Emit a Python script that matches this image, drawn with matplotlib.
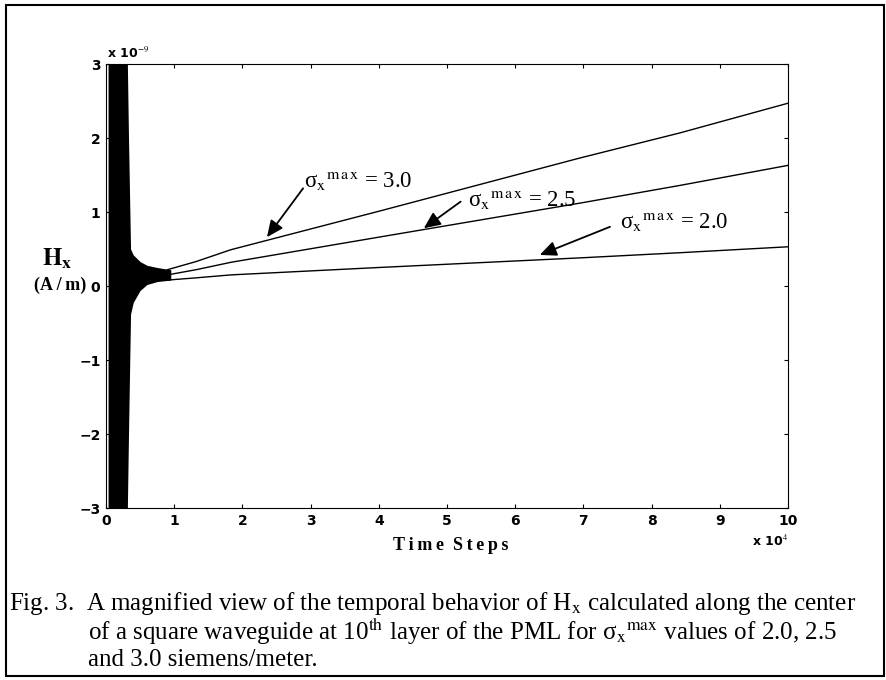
import numpy as np
from matplotlib import pyplot as plt
from matplotlib.patches import Rectangle

plt.rcParams['mathtext.fontset'] = 'stix'

# time axis in units of 1e4 steps, field in units of 1e-9 A/m
t_line = [0.9, 1.32, 1.83, 4.0, 6.95, 8.42, 10.0]
h_30 = [0.22, 0.33, 0.49, 1.01, 1.73, 2.07, 2.47]
h_25 = [0.15, 0.22, 0.32, 0.66, 1.12, 1.36, 1.63]
h_20 = [0.08, 0.11, 0.15, 0.25, 0.38, 0.45, 0.53]

# envelope of the dense early oscillation
env_t = [0.03, 0.31, 0.33, 0.36, 0.40, 0.50, 0.60, 0.75, 0.95]
env_hi = [3.2, 3.2, 2.0, 0.50, 0.42, 0.33, 0.28, 0.25, 0.22]
env_lo = [-3.2, -3.2, -2.0, -0.38, -0.22, -0.06, 0.02, 0.06, 0.08]

labels = ['3.0', '2.5', '2.0']
arrow_tip = [(2.36, 0.66), (4.66, 0.78), (6.36, 0.42)]
arrow_tail = [(2.89, 1.32), (5.20, 1.14), (7.39, 0.80)]
label_pos = [(2.90, 1.42), (5.31, 1.16), (7.54, 0.86)]

xticks = list(range(0, 11))
yticks = [-3, -2, -1, 0, 1, 2, 3]

fig = plt.figure(figsize=(8.87, 6.8), dpi=100)
ax = fig.add_axes([106/887, 1-508/680, 682/887, 444/680])

ax.fill_between(env_t, env_lo, env_hi, color='black', lw=0)
for h in (h_30, h_25, h_20):
    ax.plot(t_line, h, color='black', lw=1.0)

for lab, tip, tail, pos in zip(labels, arrow_tip, arrow_tail, label_pos):
    ax.annotate('', xy=tip, xytext=tail,
                arrowprops=dict(arrowstyle='-|>,head_length=1.0,head_width=0.45',
                                color='black', lw=1.3, shrinkA=0, shrinkB=0))
    ax.text(pos[0], pos[1], 'σ${}_{\\rm x}{}^{\\rm m\\,a\\,x}$ = ' + lab,
            family='Liberation Serif', fontsize=16.5, ha='left', va='center')

ax.set_xlim(0, 10)
ax.set_ylim(-3, 3)
ax.set_xticks(xticks)
ax.set_yticks(yticks)
ax.tick_params(direction='in', top=True, right=True, length=3, width=0.8,
               labelsize=10, pad=4)
for lbl in ax.get_xticklabels() + ax.get_yticklabels():
    lbl.set_fontweight('bold')
    lbl.set_family('DejaVu Sans')
for s in ax.spines.values():
    s.set_linewidth(0.8)

fig.text(107/887, 1-53/680, 'x 10$^{-9}$', fontsize=9, fontweight='bold',
         family='DejaVu Sans', ha='left', va='center')
fig.text(788/887, 1-541/680, 'x 10$^{4}$', fontsize=9, fontweight='bold',
         family='DejaVu Sans', ha='right', va='center')

fig.text(57/887, 1-259/680, r'$\mathbf{H}_{\mathbf{x}}$', fontsize=18,
         ha='center', va='center')
fig.text(60/887, 1-285/680, '(A\u2009/\u2009m)', fontsize=13, fontweight='bold',
         family='Liberation Serif', ha='center', va='center')
fig.text(451/887, 1-546/680, 'T\u2009i\u2009m\u2009e  S\u2009t\u2009e\u2009p\u2009s',
         fontsize=13, fontweight='bold',
         family='Liberation Serif', ha='center', va='center')

cap = dict(fontsize=18, family='Liberation Serif', ha='left', va='baseline')
fig.text(9/887, 1-610/680,
         'Fig. 3.  A magnified view of the temporal behavior of H$_{\\rm x}$ calculated along the center', **cap)
fig.text(88/887, 1-640/680,
         'of a square waveguide at 10$^{\\rm th}$ layer of the PML for σ${}_{\\rm x}{}^{\\rm max}$ values of 2.0, 2.5', **cap)
fig.text(88/887, 1-666/680, 'and 3.0 siemens/meter.', **cap)

fig.patches.append(Rectangle((6/887, 1-676/680), 878/887, 671/680,
                             transform=fig.transFigure, fill=False,
                             edgecolor='black', lw=1.5))

fig.savefig('out.png', dpi=100)
